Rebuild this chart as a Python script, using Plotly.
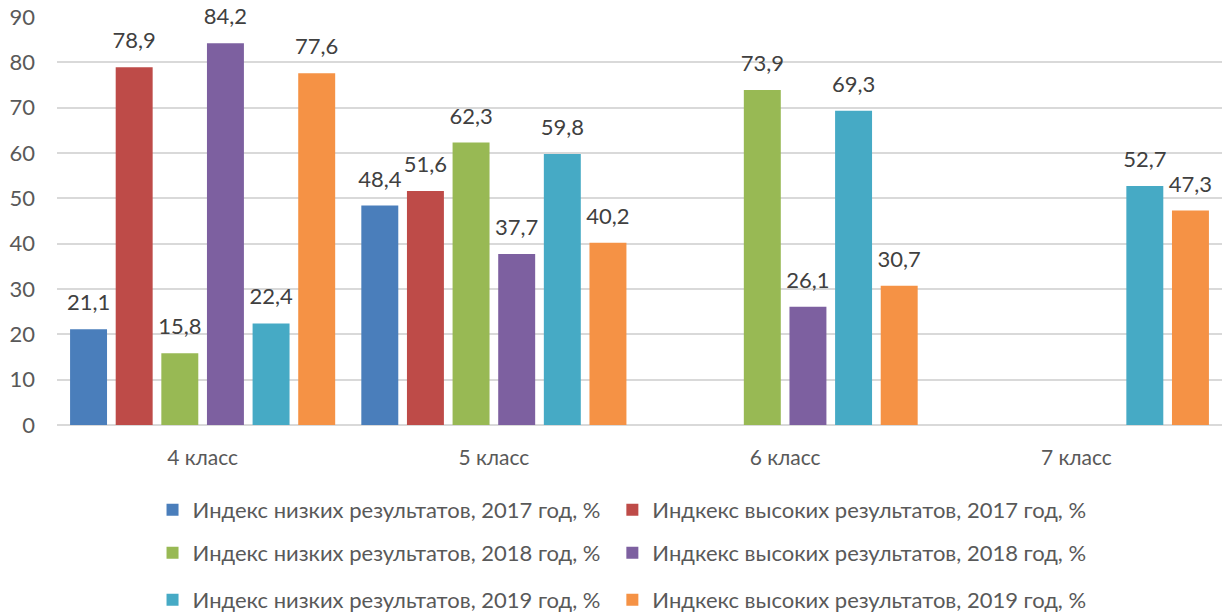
import plotly.graph_objects as go

categories = ["4 класс", "5 класс", "6 класс", "7 класс"]
series_names = [
    "Индекс низких результатов, 2017 год, %",
    "Индкекс высоких результатов, 2017 год, %",
    "Индекс низких результатов, 2018 год, %",
    "Индкекс высоких результатов, 2018 год, %",
    "Индекс низких результатов, 2019 год, %",
    "Индкекс высоких результатов, 2019 год, %",
]
low_2017 = [21.1, 48.4, None, None]
high_2017 = [78.9, 51.6, None, None]
low_2018 = [15.8, 62.3, 73.9, None]
high_2018 = [84.2, 37.7, 26.1, None]
low_2019 = [22.4, 59.8, 69.3, 52.7]
high_2019 = [77.6, 40.2, 30.7, 47.3]
y_ticks = [0, 10, 20, 30, 40, 50, 60, 70, 80, 90]

series_values = [low_2017, high_2017, low_2018, high_2018, low_2019, high_2019]
colors = ["#4A7EBB", "#BE4B48", "#98B954", "#7D60A0", "#46AAC5", "#F59245"]

FONT = "Lato"
FS = 22
BARGAP = 0.06
fig = go.Figure()
for i, (name, vals, col) in enumerate(zip(series_names, series_values, colors)):
    lg = "legend" if i == 0 else f"legend{i + 1}"
    fig.add_trace(go.Bar(
        x=categories, y=vals, name=name,
        marker=dict(color=col, line=dict(width=0)),
        legend=lg, offsetgroup=str(i),
    ))
for i, vals in enumerate(series_values):
    fig.add_trace(go.Scatter(
        x=categories, y=vals, mode="markers+text",
        marker=dict(size=20, opacity=0, color="white"),
        texttemplate="%{y:.1f}", textposition="top center",
        textfont=dict(size=FS, color="#404040", family=FONT),
        showlegend=False, hoverinfo="skip", cliponaxis=False, offsetgroup=str(i),
    ))

leg_common = dict(orientation="h", xanchor="left", yanchor="middle",
                  font=dict(size=FS, color="#595959", family=FONT),
                  bgcolor="rgba(0,0,0,0)", itemclick=False)
leg_x = [0.082, 0.4767]
leg_y = [-0.2083, -0.3137, -0.4289]
legends = {}
for i in range(6):
    key = "legend" if i == 0 else f"legend{i + 1}"
    legends[key] = dict(x=leg_x[i % 2], y=leg_y[i // 2], **leg_common)

fig.update_layout(
    width=1225, height=612,
    margin=dict(l=57, r=3, t=17, b=187, autoexpand=False),
    paper_bgcolor="white", plot_bgcolor="white",
    separators=", ",
    barmode="group", bargap=BARGAP, bargroupgap=0.19,
    scattermode="group", scattergap=BARGAP,
    font=dict(family=FONT, color="#595959", size=FS),
    yaxis=dict(range=[0, 90], tickvals=y_ticks, showgrid=True, gridcolor="#D9D9D9",
               gridwidth=1.5, zeroline=True, zerolinecolor="#D9D9D9", zerolinewidth=2,
               tickfont=dict(size=FS, color="#595959", family=FONT), ticks="",
               ticklabelstandoff=21, automargin=False),
    xaxis=dict(showline=False, ticks="", tickfont=dict(size=FS - 1, color="#595959", family=FONT),
               ticklabelstandoff=18, automargin=False),
    **legends,
)
fig.write_html("out.html", config={"displayModeBar": False},
               post_script="document.body.style.margin='0';")
